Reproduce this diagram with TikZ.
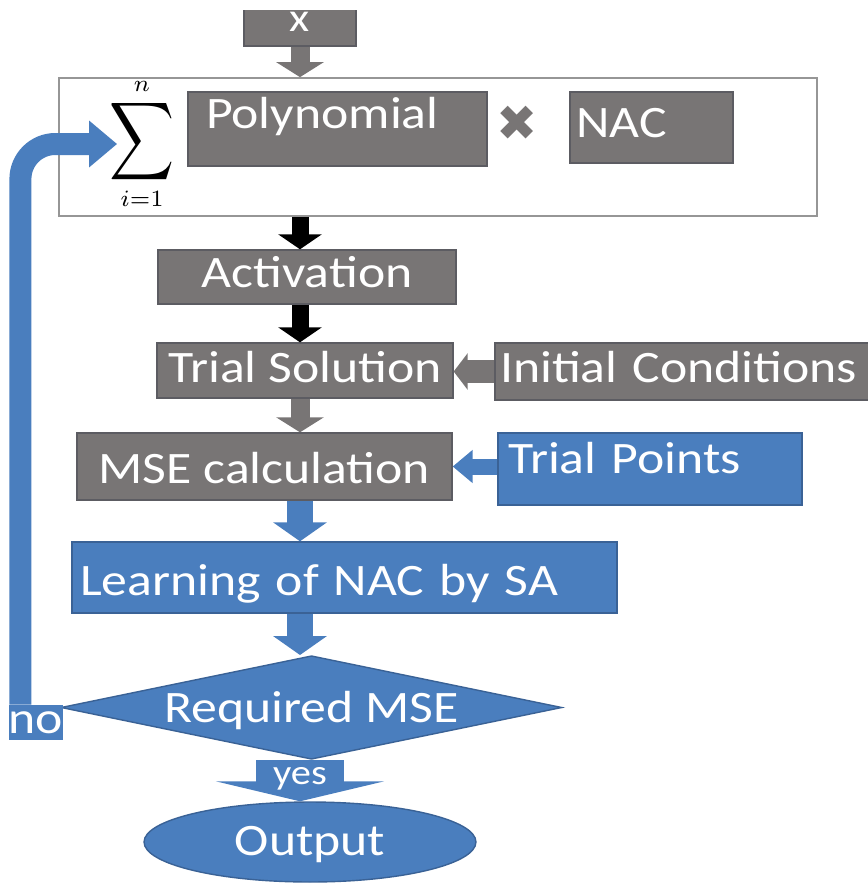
\documentclass[tikz,border=0pt]{standalone}
\usepackage{amsmath}
\usepackage[no-math]{fontspec}
\setmainfont{Carlito}[FakeStretch=1.15]
\newfontfamily\dingfont{DejaVu Sans}
\usetikzlibrary{arrows.meta, shapes.geometric}
\definecolor{boxgray}{RGB}{120,117,117}
\definecolor{edgegray}{RGB}{92,92,98}
\definecolor{framegray}{RGB}{150,150,150}
\definecolor{boxblue}{RGB}{74,126,190}
\definecolor{edgeblue}{RGB}{58,98,150}

\begin{document}
\begin{tikzpicture}[x=0.02cm, y=-0.02cm,
  every node/.style={font=\fontsize{25.6}{30}\selectfont},
  graybox/.style={draw=edgegray, line width=0.8pt, fill=boxgray, text=white, inner ysep=0pt},
  bluebox/.style={draw=edgeblue, line width=0.8pt, fill=boxblue, text=white, inner ysep=0pt},
  grayarrow/.style={draw=boxgray, line width=0.38cm, -{Triangle[width=0.94cm, length=0.3cm]}},
  blackarrow/.style={draw=black, line width=0.34cm, -{Triangle[width=0.86cm, length=0.3cm]}},
  bluearrow/.style={draw=boxblue, line width=0.52cm, -{Triangle[width=1.06cm, length=0.38cm]}},
  yesarrow/.style={draw=boxblue, line width=1.76cm, -{Triangle[width=3.36cm, length=0.4cm]}},
  loopline/.style={draw=boxblue, line width=0.44cm, rounded corners=0.7cm, -{Triangle[width=0.9cm, length=0.56cm]}},
  yeslabel/.style={text=white, inner sep=0pt, yshift=0.03cm, font=\fontsize{20}{22}\selectfont}]

\useasboundingbox (0,0) rectangle (868,896);
\clip (0,10) rectangle (868,896);

\node[graybox, minimum width=2.24cm, text height=0.72cm, text depth=0.28cm, font=\fontsize{23}{26}\selectfont] (xin) at (300,21) {x};
\node[draw=framegray, line width=1pt, fill=white, minimum width=15.16cm, minimum height=2.76cm, inner sep=0pt] (sumbox) at (438,147) {};
\node[inner sep=0pt, font=\fontsize{10}{12}\selectfont] (sumsym) at (142,144) {\scalebox{1.9}{$\displaystyle\mathop{\scalebox{1.35}[1.63]{$\displaystyle\sum$}}\limits_{i=1}^{n}$}};
\node[graybox, text width=5.26cm, inner xsep=0.36cm, align=left, text height=0.72cm, text depth=0.76cm] (poly) at (337.5,129) {Polynomial};
\node[text=boxgray, inner sep=0pt, font=\dingfont\fontsize{28}{28}\selectfont] (times) at (517,123) {✖};
\node[graybox, text width=3.02cm, inner xsep=0.12cm, align=left, text height=0.9cm, text depth=0.52cm] (nac) at (651.5,127.5) {NAC};

\node[graybox, minimum width=5.96cm, text height=0.74cm, text depth=0.34cm] (act) at (307,277) {Activation};
\node[graybox, minimum width=5.92cm, text height=0.78cm, text depth=0.32cm] (trialsol) at (305,370.5) {Trial Solution};
\node[graybox, text width=7.5cm, inner xsep=0.1cm, align=left, text height=0.78cm, text depth=0.36cm] (initcond) at (687.5,371.5) {Initial Conditions};
\node[graybox, minimum width=7.5cm, text height=1cm, text depth=0.34cm] (msecalc) at (264.5,466.5) {MSE calculation};
\node[bluebox, text width=5.68cm, inner xsep=0.2cm, align=left, text height=0.8cm, text depth=0.64cm] (trialpts) at (650,469) {Trial Points};
\node[bluebox, text width=10.58cm, inner xsep=0.16cm, align=left, text height=1.06cm, text depth=0.36cm] (learn) at (344.5,577.5) {Learning of NAC by SA};
\node[bluebox, diamond, aspect=4, inner sep=0pt, minimum width=10.02cm, minimum height=2.02cm, text height=0.6cm, text depth=-0.3cm] (decide) at (311.5,707.5) {Required MSE};
\node[fill=boxblue, text=white, minimum width=0.96cm, inner xsep=0pt, inner ysep=0pt, text height=0.56cm, text depth=0.14cm] (no) at (36,722.5) {no};
\node[bluebox, ellipse, inner sep=0pt, minimum width=6.64cm, minimum height=1.6cm, text height=0.6cm, text depth=0.08cm] (out) at (310,842) {Output};

\draw[grayarrow] (xin.south) -- (xin.south |- sumbox.north);
\draw[blackarrow] (sumbox.south -| xin.south) -- (act.north -| xin.south);
\draw[blackarrow] (act.south -| xin.south) -- (trialsol.north -| xin.south);
\draw[grayarrow] (trialsol.south -| xin.south) -- (msecalc.north -| xin.south);
\draw[bluearrow] (msecalc.south -| xin.south) -- (learn.north -| xin.south);
\draw[bluearrow] (learn.south -| xin.south) -- (decide.north -| xin.south);
\draw[yesarrow] (decide.south -| xin.south) -- node[yeslabel] {yes} (out.north -| xin.south);
\draw[draw=boxgray, line width=0.46cm, -{Triangle[width=0.72cm, length=0.28cm]}] (initcond.west) -- (initcond.west -| trialsol.east);
\draw[draw=boxblue, line width=0.32cm, -{Triangle[width=0.64cm, length=0.4cm]}] (trialpts.west |- msecalc.east) -- (msecalc.east);
\draw[loopline] ([xshift=0.24cm]no.north west) |- ([xshift=0.16cm]sumsym.west);
\end{tikzpicture}
\end{document}
